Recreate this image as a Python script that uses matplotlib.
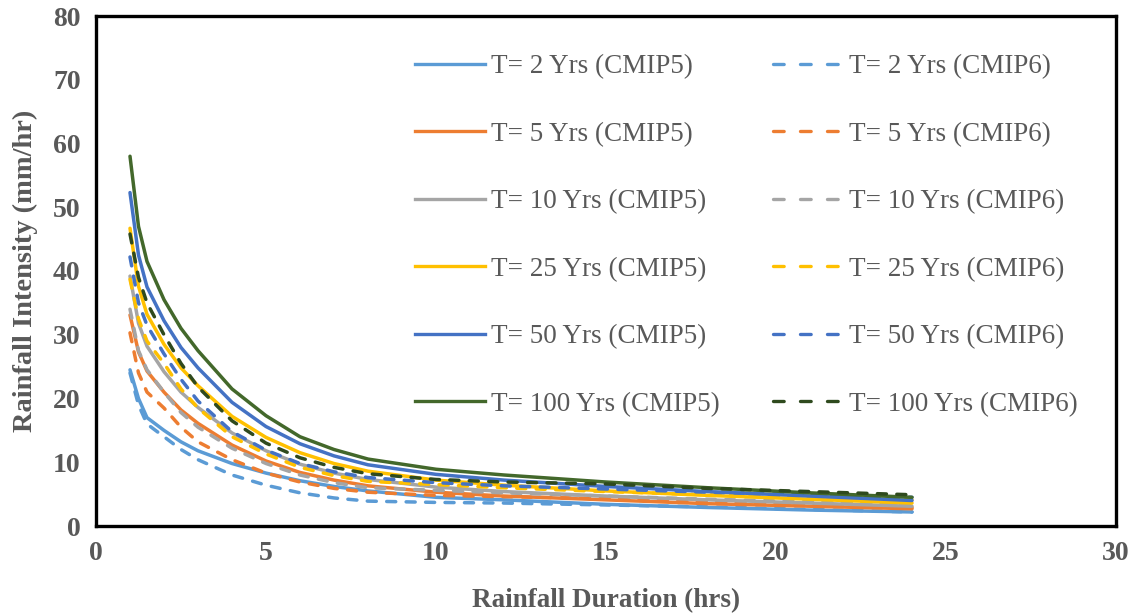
import matplotlib.pyplot as plt
from matplotlib.lines import Line2D

# Rainfall duration (hrs)
duration = [1, 1.25, 1.5, 2, 2.5, 3, 4, 5, 6, 7, 8, 10, 12, 15, 18, 21, 24]

# Rainfall intensity (mm/hr), CMIP5
t2_cmip5 = [24.5, 20.0, 17.0, 15.0, 13.2, 11.8, 9.8, 8.3, 7.1, 6.2, 5.5, 4.5, 4.1, 3.4, 2.9, 2.5, 2.2]
t5_cmip5 = [33.1, 27.3, 24.3, 21.0, 18.2, 16.1, 12.7, 10.2, 8.4, 7.2, 6.3, 5.3, 4.7, 4.1, 3.5, 3.1, 2.7]
t10_cmip5 = [39.2, 31.8, 28.2, 24.2, 21.0, 18.6, 14.6, 11.8, 9.7, 8.3, 7.3, 6.1, 5.4, 4.7, 4.1, 3.6, 3.1]
t25_cmip5 = [46.7, 37.6, 33.2, 28.5, 24.8, 22.0, 17.2, 13.9, 11.5, 9.8, 8.6, 7.2, 6.4, 5.5, 4.8, 4.2, 3.6]
t50_cmip5 = [52.3, 42.5, 37.5, 32.2, 28.0, 24.8, 19.4, 15.6, 12.9, 11.0, 9.6, 8.1, 7.2, 6.2, 5.4, 4.7, 4.0]
t100_cmip5 = [58.0, 47.0, 41.5, 35.5, 31.0, 27.5, 21.5, 17.3, 14.0, 12.0, 10.5, 8.9, 8.0, 6.9, 6.0, 5.2, 4.5]

# Rainfall intensity (mm/hr), CMIP6
t2_cmip6 = [24.0, 19.0, 16.0, 14.0, 12.0, 10.4, 8.0, 6.4, 5.2, 4.4, 3.9, 3.7, 3.6, 3.3, 3.0, 2.6, 2.2]
t5_cmip6 = [30.3, 24.0, 21.0, 18.5, 15.5, 13.2, 10.4, 8.3, 6.9, 5.9, 5.3, 4.8, 4.6, 4.3, 3.8, 3.3, 2.9]
t10_cmip6 = [34.0, 27.5, 24.5, 21.0, 17.8, 15.5, 12.2, 9.8, 8.0, 6.8, 6.0, 5.6, 5.2, 4.7, 4.2, 3.8, 3.4]
t25_cmip6 = [38.7, 32.5, 29.0, 25.5, 21.5, 18.5, 14.0, 11.3, 9.2, 7.9, 7.0, 6.5, 6.0, 5.4, 4.9, 4.5, 4.1]
t50_cmip6 = [42.2, 35.0, 31.5, 27.0, 23.0, 19.6, 14.8, 11.9, 9.8, 8.5, 7.6, 6.8, 6.3, 5.8, 5.3, 4.9, 4.5]
t100_cmip6 = [45.8, 39.0, 35.0, 30.0, 25.5, 21.8, 16.5, 13.0, 10.7, 9.2, 8.2, 7.3, 6.9, 6.6, 5.9, 5.4, 4.9]

periods = [2, 5, 10, 25, 50, 100]
cmip5 = [t2_cmip5, t5_cmip5, t10_cmip5, t25_cmip5, t50_cmip5, t100_cmip5]
cmip6 = [t2_cmip6, t5_cmip6, t10_cmip6, t25_cmip6, t50_cmip6, t100_cmip6]
colors5 = ['#5B9BD5', '#ED7D31', '#A5A5A5', '#FFC000', '#4472C4', '#43682B']
colors6 = ['#5B9BD5', '#ED7D31', '#A5A5A5', '#FFC000', '#4472C4', '#2F4A1E']

plt.rcParams['font.family'] = ['Liberation Serif', 'DejaVu Serif']
gray_text = '#595959'

fig = plt.figure(figsize=(11.37, 6.15), dpi=100)
ax = fig.add_axes([96 / 1137, 1 - 526 / 615, 1020 / 1137, 510 / 615])

lw = 2.5
handles5, handles6 = [], []
for T, y5, y6, c5, c6 in zip(periods, cmip5, cmip6, colors5, colors6):
    ax.plot(duration, y5, color=c5, lw=lw, solid_capstyle='round')
    ax.plot(duration, y6, color=c6, lw=lw, dashes=(2.6, 3.0), dash_capstyle='round')
    handles5.append(Line2D([], [], color=c5, lw=2.4, label=f'T= {T} Yrs (CMIP5)'))
    handles6.append(Line2D([], [], color=c6, lw=2.4, dashes=(3.2, 4.9),
                           dash_capstyle='round', label=f'T= {T} Yrs (CMIP6)'))

ax.set_xlim(0, 30)
ax.set_ylim(0, 80)
ax.set_xticks(range(0, 31, 5))
ax.set_yticks(range(0, 81, 10))
ax.tick_params(length=0, labelsize=20, labelcolor=gray_text)
ax.tick_params(axis='x', pad=11)
ax.tick_params(axis='y', pad=11)
for lab in ax.get_xticklabels() + ax.get_yticklabels():
    lab.set_fontweight('bold')
for sp in ax.spines.values():
    sp.set_linewidth(2.4)
    sp.set_color('black')

ax.set_xlabel('Rainfall Duration (hrs)', fontsize=19.5, fontweight='bold',
              color=gray_text, labelpad=16)
ax.set_ylabel('Rainfall Intensity (mm/hr)', fontsize=20.5, fontweight='bold',
              color=gray_text, labelpad=11)

leg = ax.legend(handles=handles5 + handles6, ncol=2, loc='upper left',
                bbox_to_anchor=(0.3127, 0.925), frameon=False, fontsize=19.5,
                labelcolor=gray_text, handlelength=2.6, handletextpad=0.2,
                labelspacing=1.57, columnspacing=1.98, borderpad=0,
                borderaxespad=0)

fig.savefig('out.png', dpi=100)
